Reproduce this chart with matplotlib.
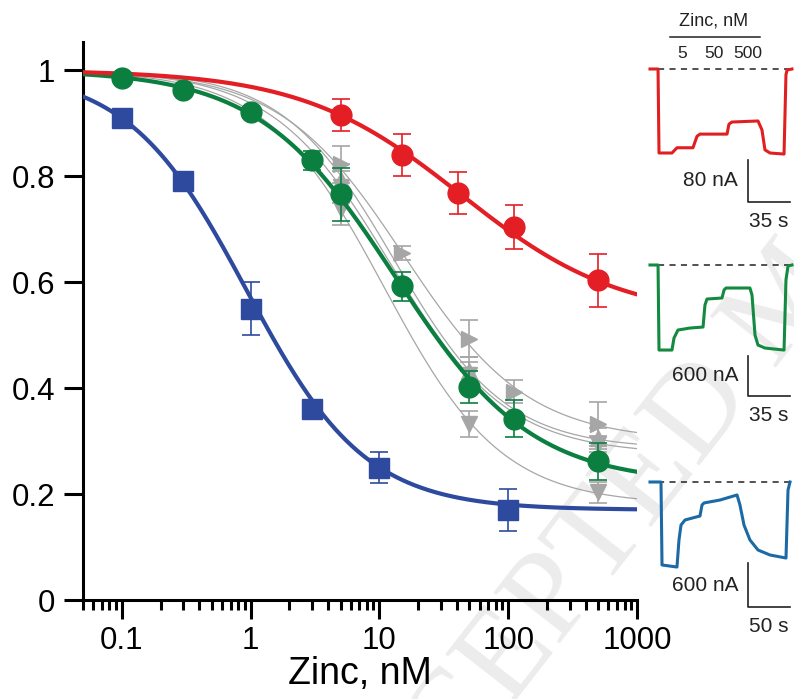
import numpy as np
import matplotlib
matplotlib.use("Agg")
import matplotlib.pyplot as plt

plt.rcParams['font.family'] = ['Liberation Sans', 'DejaVu Sans']

W, H = 794, 699

# ---- dose-response data (Zinc, nM -> normalized current) ----
blue_x = [0.1, 0.3, 1, 3, 10, 100]
blue_y = [0.91, 0.79, 0.55, 0.36, 0.25, 0.17]
blue_err = [0.012, 0.015, 0.05, 0.01, 0.03, 0.04]
blue_fit = [0.17, 0.93, 0.94]        # bottom, IC50, Hill

green_x = [0.1, 0.3, 1, 3, 5, 15, 50, 110, 500]
green_y = [0.985, 0.962, 0.92, 0.83, 0.766, 0.592, 0.402, 0.342, 0.262]
green_err = [0.006, 0.006, 0.01, 0.018, 0.05, 0.027, 0.03, 0.035, 0.035]
green_fit = [0.22, 13.3, 0.82]

red_x = [5, 15, 41, 110, 500]
red_y = [0.915, 0.84, 0.768, 0.704, 0.603]
red_err = [0.03, 0.04, 0.04, 0.042, 0.05]
red_fit = [0.53, 43, 0.7]

# grey sets: markers, x, y, err, fit
grey_markers = ['>', '^', 'v', 'v']
grey_x = [[5, 15, 50, 110, 500], [5, 50, 500], [5, 50, 500], [5, 50, 500]]
grey_y = [[0.822, 0.655, 0.493, 0.393, 0.332],
          [0.793, 0.433, 0.305],
          [0.78, 0.424, 0.295],
          [0.738, 0.332, 0.203]]
grey_err = [[0.035, 0.013, 0.035, 0.022, 0.042],
            [0.03, 0.025, 0.02],
            [0.03, 0.025, 0.015],
            [0.03, 0.025, 0.02]]
grey_fit = [[0.30, 15.5, 0.9], [0.285, 13, 1.0], [0.275, 12, 0.95], [0.18, 10.9, 0.95]]

# ---- example current traces (time s, current nA) ----
red_t = [0, 6.7, 7.5, 18.3, 22.5, 35.8, 39.2, 41.7, 64.2, 65.8, 68.3, 90, 93.3, 95.8, 100, 111.7, 113.3, 114.2, 118.3]
red_i = [0, 0, -160, -160, -150, -150, -128, -124, -124, -105, -101, -99, -116, -154, -160, -162, -11, -2, 0]
green_t = [0, 6.7, 7.5, 18.3, 20, 23.3, 33.3, 44.2, 45.8, 47.5, 60, 61.7, 63.3, 83.3, 85, 87.5, 90, 95.8, 111.7, 113.3, 115, 118.3]
green_i = [0, 0, -1275, -1275, -1095, -975, -945, -930, -600, -510, -495, -375, -345, -345, -450, -1050, -1200, -1245, -1275, -225, -15, 0]
blue_t = [0, 13.1, 14.3, 32.1, 34.5, 36.9, 41.7, 59.5, 61.9, 64.3, 83.3, 103.6, 107.1, 111.9, 119, 128.6, 142.9, 161.9, 164.3, 166.7]
blue_i = [0, 0, -1132, -1160, -791, -587, -518, -464, -314, -286, -246, -177, -314, -587, -791, -928, -996, -1037, -109, 0]


def hill(x, p):
    b, ic, n = p
    return b + (1 - b) / (1 + (x / ic) ** n)


def fx(px):
    return px / W


def fy(py):
    return 1 - py / H


fig = plt.figure(figsize=(W / 100, H / 100), dpi=100)

# watermark, behind everything
fig.text(fx(790), fy(300), 'ACCEPTED MANUSCRIPT', family='Liberation Serif', fontsize=92,
         color='#ececec', rotation=52, rotation_mode='anchor', ha='center', va='center', zorder=-5)

ax = fig.add_axes([fx(83), fy(600), fx(637) - fx(83), fy(42) - fy(600)])
ax.patch.set_alpha(0)
ax.set_xscale('log')
ax.set_xlim(0.05, 1000)
ax.set_ylim(0, 1.053)

xs = np.logspace(np.log10(0.05), 3, 400)

grey = '#a6a6a6'
for m, gx, gy, ge, gp in zip(grey_markers, grey_x, grey_y, grey_err, grey_fit):
    ax.plot(xs, hill(xs, gp), color=grey, lw=0.9, zorder=2)
    ax.errorbar(gx, gy, yerr=ge, fmt=m, color=grey, ms=12, elinewidth=1.2,
                capsize=6.5, capthick=1.2, zorder=3)

series = [(green_x, green_y, green_err, green_fit, '#0a7f3f', 'o', 15),
          (red_x, red_y, red_err, red_fit, '#e31e24', 'o', 15),
          (blue_x, blue_y, blue_err, blue_fit, '#2e4a9e', 's', 15)]
for sx, sy, se, sp, c, m, ms in series:
    ax.plot(xs, hill(xs, sp), color=c, lw=3, zorder=4)
    ax.errorbar(sx, sy, yerr=se, fmt=m, color=c, ms=ms, elinewidth=1.2,
                capsize=6.5, capthick=1.2, zorder=5)

for s in ['top', 'right']:
    ax.spines[s].set_visible(False)
for s in ['left', 'bottom']:
    ax.spines[s].set_linewidth(2.2)

ax.set_yticks([0, 0.2, 0.4, 0.6, 0.8, 1])
ax.set_yticklabels(['0', '0.2', '0.4', '0.6', '0.8', '1'])
ax.set_xticks([0.1, 1, 10, 100, 1000])
ax.set_xticklabels(['0.1', '1', '10', '100', '1000'])
ax.xaxis.set_minor_locator(matplotlib.ticker.LogLocator(base=10, subs=np.arange(2, 10), numticks=20))
ax.xaxis.set_minor_formatter(matplotlib.ticker.NullFormatter())
ax.tick_params(axis='both', which='major', length=14, width=2.2, labelsize=22.5, direction='out')
ax.tick_params(axis='x', which='minor', length=7.5, width=2.2, direction='out')
ax.tick_params(axis='y', pad=6)
ax.tick_params(axis='x', pad=5)
ax.set_xlabel('Zinc, nM', fontsize=27, labelpad=0)


# ---- insets ----
def make_inset(top, bottom, base_py, px_s, px_na):
    a = fig.add_axes([fx(640), fy(bottom), fx(794) - fx(640), fy(top) - fy(bottom)])
    a.set_xlim((640 - 650) / px_s, (794 - 650) / px_s)
    a.set_ylim(-(bottom - base_py) / px_na, (base_py - top) / px_na)
    a.axis('off')
    a.patch.set_alpha(0)
    return a


insets = [
    (0, 240, 69, 1.2, 0.525, red_t, red_i, '#e02020', 80, 35, '80 nA', '35 s', 160, 202),
    (240, 450, 265, 1.2, 0.0667, green_t, green_i, '#138a3f', 600, 35, '600 nA', '35 s', 356, 396),
    (450, 699, 482, 0.84, 0.0733, blue_t, blue_i, '#1b6aa5', 600, 50, '600 nA', '50 s', 563, 607),
]
for top, bot, base, ps, pn, t, i, c, bar_i, bar_t, lab_i, lab_t, sb_top, sb_bot in insets:
    a = make_inset(top, bot, base, ps, pn)
    a.plot([(658 - 650) / ps, (790 - 650) / ps], [0, 0], color='#222222', lw=1.1,
           dashes=(4, 3.5), zorder=1)
    a.plot(t, i, color=c, lw=2.2, zorder=2)
    # scale bar
    sx0 = (748 - 650) / ps
    sy0 = -(sb_bot - base) / pn
    a.plot([sx0, sx0, sx0 + bar_t], [sy0 + bar_i, sy0, sy0], color='#222222', lw=1.2)
    a.text(sx0 - 10 / ps, sy0 + bar_i / 2, lab_i, ha='right', va='center', fontsize=15, color='#222222')
    a.text(sx0 + bar_t / 2, sy0 - 10 / pn, lab_t, ha='center', va='top', fontsize=15, color='#222222')

fig.text(fx(714), fy(21), 'Zinc, nM', ha='center', va='center', fontsize=13, color='#222222')
fig.add_artist(plt.Line2D([fx(670), fx(760)], [fy(37), fy(37)], color='#222222', lw=1.1))
for lab, px in zip(['5', '50', '500'], [682, 714, 748]):
    fig.text(fx(px), fy(53), lab, ha='center', va='center', fontsize=12.5, color='#222222')

fig.savefig('out.png', dpi=100)
